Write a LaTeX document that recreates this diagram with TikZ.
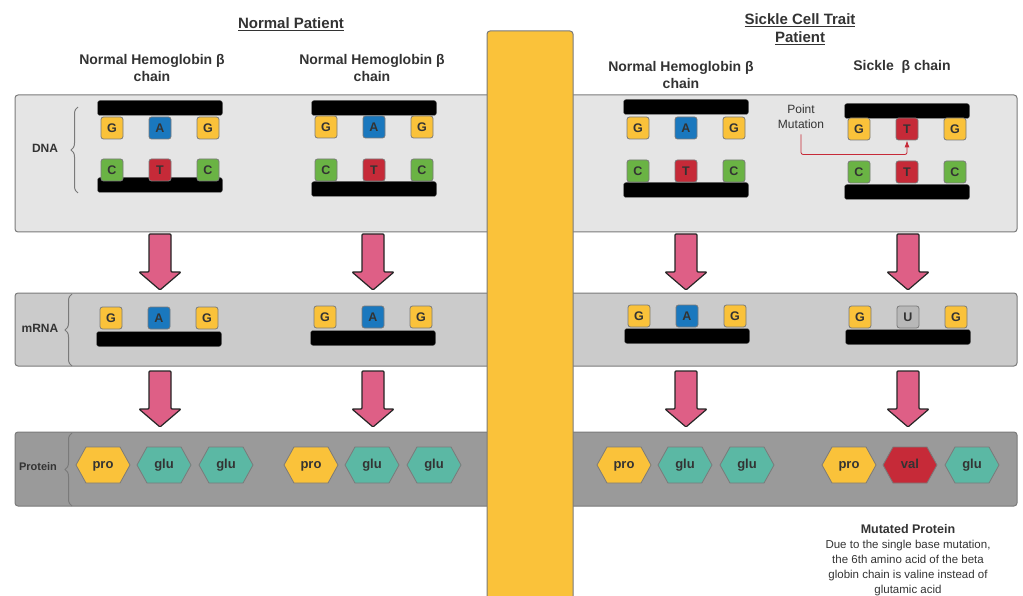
\documentclass[tikz,border=0pt]{standalone}
\usepackage{fontspec}
\setmainfont{Liberation Sans}
\usetikzlibrary{shapes.symbols,decorations.pathreplacing,arrows.meta}

\definecolor{ybase}{HTML}{FAC23A}
\definecolor{bbase}{HTML}{1A78BE}
\definecolor{rbase}{HTML}{C62A38}
\definecolor{gbase}{HTML}{6AB344}
\definecolor{ubase}{HTML}{B8B8B8}
\definecolor{teal}{HTML}{5BB8A4}
\definecolor{pinkarr}{HTML}{DE5F86}
\definecolor{bandA}{HTML}{E5E5E5}
\definecolor{bandB}{HTML}{CBCBCB}
\definecolor{bandC}{HTML}{9A9A9A}
\definecolor{edge}{HTML}{7A7A7A}
\definecolor{txt}{HTML}{333333}

\tikzset{
  band/.style={draw=edge, line width=1pt, rounded corners=3pt},
  nuc/.style={draw=edge, line width=0.8pt, rounded corners=2.5pt, minimum size=22pt,
    inner sep=0pt, text=txt, font=\bfseries\fontsize{12.5}{12.5}\selectfont},
  nucG/.style={nuc, fill=ybase},
  nucA/.style={nuc, fill=bbase},
  nucT/.style={nuc, fill=rbase},
  nucC/.style={nuc, fill=gbase},
  nucU/.style={nuc, fill=ubase},
  strand/.style={draw=edge, fill=black, rounded corners=2.5pt, minimum width=125pt,
    minimum height=15pt, inner sep=0pt},
  amino/.style={shape=signal, signal to=west and east, signal pointer angle=122,
    draw=edge, line width=0.8pt, minimum width=54pt, minimum height=36pt, inner sep=0pt,
    text height=9pt, text depth=2pt, text=txt, font=\bfseries\fontsize{13}{13}\selectfont},
  pro/.style={amino, fill=ybase},
  glu/.style={amino, fill=teal},
  val/.style={amino, fill=rbase},
  flow/.style={draw=black!85, line width=1.2pt, fill=pinkarr, rounded corners=1pt},
  lbl/.style={text=txt, font=\bfseries\fontsize{12}{12}\selectfont},
  head/.style={text=txt, align=center, font=\bfseries\fontsize{14}{17}\selectfont},
  brc/.style={draw=edge, line width=1pt, decorate, decoration={brace, amplitude=7pt}}
}

\begin{document}
\begin{tikzpicture}[x=1pt,y=-1pt]
  \useasboundingbox (0,0) rectangle (1023,596);

  % bands
  \draw[band, fill=bandA] (15,95) rectangle (1017,232);
  \draw[band, fill=bandB] (15,293) rectangle (1017,366);
  \draw[band, fill=bandC] (15,432) rectangle (1017,506);

  % row labels
  \node[lbl] (dna) at (45,148) {DNA};
  \node[lbl] (mrna) at (40,328) {mRNA};
  \node[lbl, font=\bfseries\fontsize{11}{11}\selectfont] (prot) at (38,467) {Protein};
  \draw[brc] (78,193) -- (78,107);
  \draw[brc] (72,366) -- (72,294);
  \draw[brc] (72,506) -- (72,433);

  % DNA
  \foreach \n/\cx/\tb/\tl/\bl/\bb/\mid in {1/160/108/128/170/185/A, 2/374/108/127/170/189/A,
      3/686/107/128/171/190/A, 4/907/111/129/172/192/T} {
    \node[strand] (top\n) at (\cx,\tb) {};
    \node[nucG] (dg\n) at (\cx-48,\tl) {G};
    \node[nuc\mid] (dm\n) at (\cx,\tl) {\mid};
    \node[nucG] (dh\n) at (\cx+48,\tl) {G};
    \node[strand] (bot\n) at (\cx,\bb) {};
    \node[nucC] (dc\n) at (\cx-48,\bl) {C};
    \node[nucT] (dt\n) at (\cx,\bl) {T};
    \node[nucC] (dd\n) at (\cx+48,\bl) {C};
  }

  % point mutation
  \node[text=txt, align=center, font=\fontsize{12}{15}\selectfont] (pm) at (801,117) {Point\\Mutation};
  \draw[rbase, line width=0.8pt, rounded corners=2pt, -{Latex[length=7pt,width=5pt]}]
    (pm.south) ++(0,2) -- ++(0,20) -| (dm4.south);

  % mRNA
  \foreach \n/\cx/\ly/\by/\mid in {1/159/318/339/A, 2/373/317/338/A, 3/687/316/336/A, 4/908/317/337/U} {
    \node[strand] (rna\n) at (\cx,\by) {};
    \node[nucG] (rg\n) at (\cx-48,\ly) {G};
    \node[nuc\mid] (rm\n) at (\cx,\ly) {\mid};
    \node[nucG] (rh\n) at (\cx+48,\ly) {G};
  }

  % protein
  \foreach \n/\cx/\mid in {1/164/glu, 2/372/glu, 3/685/glu, 4/910/val} {
    \node[pro] (ap\n) at (\cx-61,465) {pro};
    \node[\mid] (am\n) at (\cx,465) {\mid};
    \node[glu] (ag\n) at (\cx+62,465) {glu};
  }

  % block arrows
  \foreach \x in {160,373,686,908}
    \foreach \y in {234,371}
      \draw[flow] (\x-11,\y) -- (\x+11,\y) -- (\x+11,\y+38) -- (\x+21,\y+38) -- (\x,\y+56)
        -- (\x-21,\y+38) -- (\x-11,\y+38) -- cycle;

  % divider
  \draw[draw=edge, line width=1pt, fill=ybase, rounded corners=3pt] (487,31) rectangle (573,610);

  % titles
  \node[head, font=\bfseries\fontsize{15}{18}\selectfont] (t1) at (291,24) {\underline{Normal Patient}};
  \node[head, font=\bfseries\fontsize{15}{18}\selectfont] (t2) at (800,29)
    {\underline{Sickle Cell Trait}\\\underline{Patient}};
  \node[head] (h1) at (152,68) {Normal Hemoglobin β\\chain};
  \node[head] (h2) at (372,68) {Normal Hemoglobin β\\chain};
  \node[head] (h3) at (681,75) {Normal Hemoglobin β\\chain};
  \node[head] (h4) at (902,67) {Sickle\ \ β chain};

  % note
  \node[text=txt, align=center, font=\fontsize{11.5}{15}\selectfont] (note) at (908,560)
    {{\bfseries\fontsize{12.5}{15}\selectfont Mutated Protein}\\Due to the single base mutation,\\the 6th amino acid of the beta\\globin chain is valine instead of\\glutamic acid};
\end{tikzpicture}
\end{document}
